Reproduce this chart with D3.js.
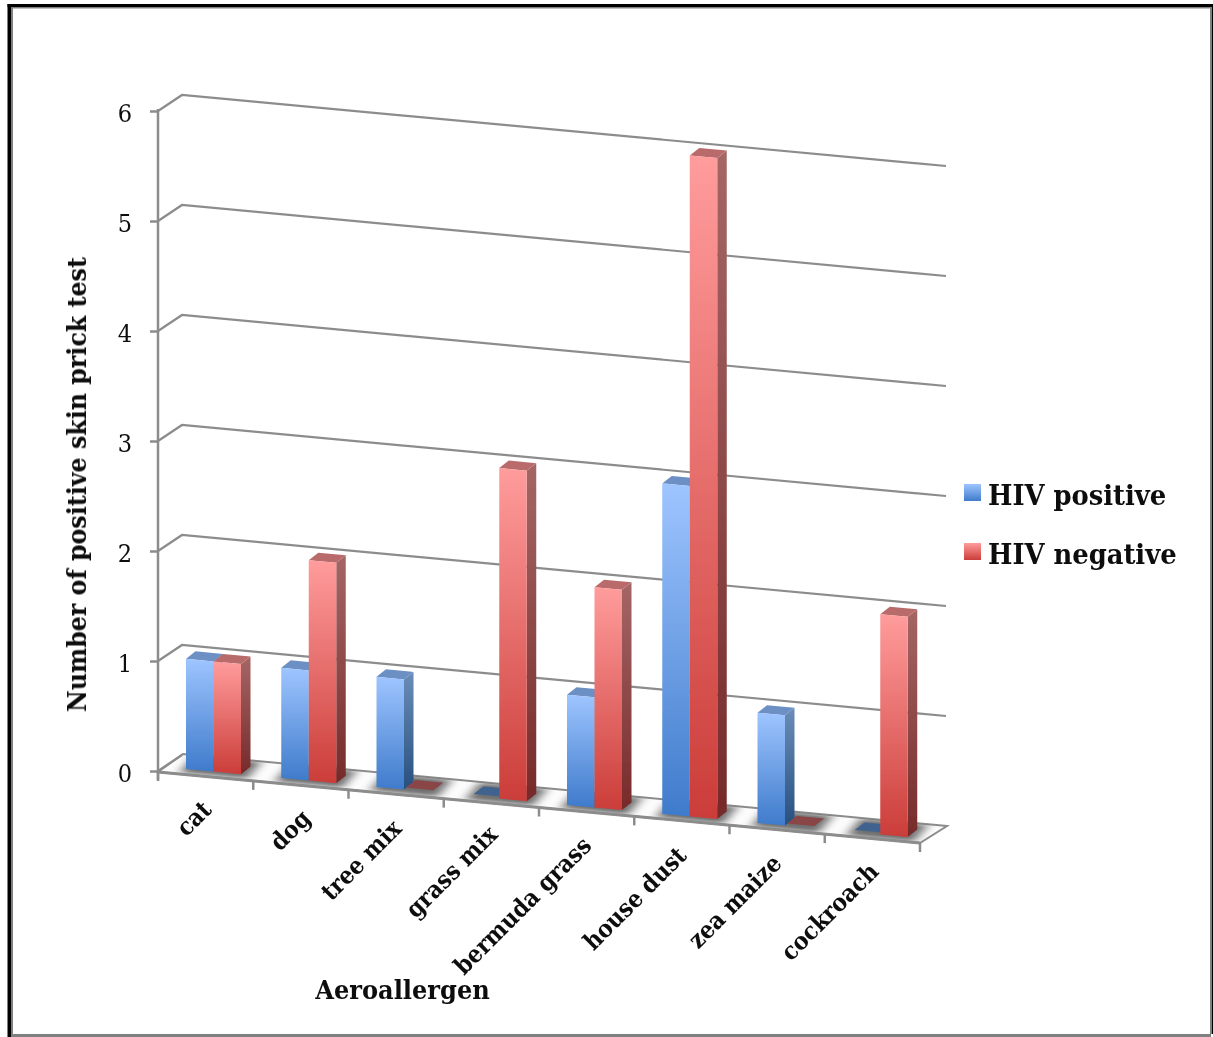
<!DOCTYPE html>
<html>
<head>
<meta charset="utf-8">
<script src="https://cdnjs.cloudflare.com/ajax/libs/d3/7.8.5/d3.min.js"></script>
<style>
  html, body { margin: 0; padding: 0; background: #fff; }
  svg { display: block; }
  text { fill: #0c0c0c; }
  .bold { font-family: "DejaVu Serif Condensed", "DejaVu Serif", serif; font-weight: bold; }
</style>
</head>
<body>
<svg id="svg"></svg>
<script>
const categories = ["cat", "dog", "tree mix", "grass mix", "bermuda grass", "house dust", "zea maize", "cockroach"];
const seriesNames = ["HIV positive", "HIV negative"];
const hivPositive = [1, 1, 1, 0, 1, 3, 1, 0];
const hivNegative = [1, 2, 0, 3, 2, 6, 0, 2];
const yTicks = [0, 1, 2, 3, 4, 5, 6];
const labelEnds = [[213, 811], [312, 820], [403, 830], [499, 836], [593, 847], [688, 857], [783, 865], [880, 873]];

const width = 1213;
const height = 1037;

const root = d3.select("#svg").attr("width", width).attr("height", height);
const defs = root.append("defs");

function addGradient(id, top, bottom) {
    let g = defs.append("linearGradient").attr("id", id)
        .attr("x1", 0).attr("y1", 0).attr("x2", 0).attr("y2", 1);
    g.append("stop").attr("offset", "0%").attr("stop-color", top);
    g.append("stop").attr("offset", "100%").attr("stop-color", bottom);
}
addGradient("front0", "#9ec5ff", "#3f7bcb");
addGradient("side0", "#6a8db8", "#28507f");
addGradient("front1", "#ff9c9c", "#cb3d39");
addGradient("side1", "#a56666", "#772a2a");

defs.append("filter").attr("id", "shadow")
    .attr("x", "-50%").attr("y", "-100%").attr("width", "200%").attr("height", "300%")
    .append("feGaussianBlur").attr("stdDeviation", "6 2");

// the picture is a bit soft everywhere
defs.append("filter").attr("id", "soft")
    .attr("filterUnits", "userSpaceOnUse")
    .attr("x", 0).attr("y", 0).attr("width", width).attr("height", height)
    .append("feGaussianBlur").attr("stdDeviation", 0.45);

const topColor = ["#6c8fc4", "#b96a6a"];
const flatColor = ["#3f628f", "#8a4446"];
const lineGray = "#8c8c8c";

// frame
const frame = root.append("g");
frame.append("rect").attr("x", 11).attr("y", 7).attr("width", 1200).attr("height", 1030).attr("fill", "#808080");
frame.append("rect").attr("x", 13).attr("y", 8.5).attr("width", 1197).attr("height", 1025.5).attr("fill", "#fff");
frame.append("rect").attr("x", 7.5).attr("y", 4).attr("width", 3.5).attr("height", 1033).attr("fill", "#000");
frame.append("rect").attr("x", 7.5).attr("y", 4).attr("width", 1205.5).attr("height", 3).attr("fill", "#000");
frame.append("rect").attr("x", 1211.5).attr("y", 4).attr("width", 1.5).attr("height", 1030).attr("fill", "#000");

const svg = root.append("g").attr("filter", "url(#soft)");

// scales
const xScale = d3.scaleBand().domain(categories).range([158, 920]);
const barScale = d3.scaleBand().domain(seriesNames).range([28, 83]);
const yScale = d3.scaleLinear().domain([0, 6]).range([771, 111]);
const heightScale = d3.scaleLinear().domain([0, 6]).range([0, 661]);
const floorY = d3.scaleLinear().domain([186, 854]).range([769, 832]);

const depthX = 9.5;
const depthY = -7.5;
const wallX = 24;
const wallY = -16;
const gridRun = 764;
const gridDrop = 71;

function pts(list) {
    return list.map(p => p.join(",")).join(" ");
}

// floor
const floorFront = d3.line()([[158, 772], [920, 843]]);
const floorPoly = [[158, 772], [920, 843], [947, 826], [183, 754]];
defs.append("clipPath").attr("id", "floor-clip").append("polygon").attr("points", pts(floorPoly));
svg.append("polygon").attr("points", pts(floorPoly))
    .attr("fill", "#fdfdfd").attr("stroke", lineGray).attr("stroke-width", 2);

// gray shadows under the bars
svg.append("g").attr("clip-path", "url(#floor-clip)")
    .selectAll("polygon")
    .data(categories)
    .join("polygon")
    .attr("filter", "url(#shadow)")
    .attr("fill", "#707070")
    .attr("points", c => {
        let x0 = xScale(c) + 22;
        let x1 = xScale(c) + xScale.bandwidth() - 6;
        return pts([[x0, floorY(x0) + 4], [x1, floorY(x1) + 4], [x1 + 14, floorY(x1) - 13], [x0 + 14, floorY(x0) - 13]]);
    });

svg.append("path").attr("d", floorFront).attr("stroke", lineGray).attr("stroke-width", 3).attr("fill", "none");

// gridlines, each with its bit of side wall
const grid = svg.append("g").attr("fill", "none").attr("stroke", lineGray).attr("stroke-width", 2.2);
yTicks.forEach(t => {
    let y = yScale(t);
    let points = [[158, y], [158 + wallX, y + wallY]];
    if (t > 0) points.push([158 + wallX + gridRun, y + wallY + gridDrop]);
    grid.append("polyline").attr("points", pts(points));
});

// y axis
const yAxis = svg.append("g")
    .attr("transform", "translate(158,0)")
    .call(d3.axisLeft(yScale).tickValues(yTicks).tickFormat(d3.format("d")).tickSize(8).tickPadding(18));
yAxis.selectAll("line, path").attr("stroke", lineGray).attr("stroke-width", 2.5);
yAxis.select(".domain").attr("d", "M0,109V780");
yAxis.selectAll("text")
    .attr("font-family", "'DejaVu Serif Condensed', 'DejaVu Serif', serif")
    .attr("font-size", 25).attr("dy", "0.42em").attr("fill", "#111");

// x ticks on the floor front edge
svg.append("g").selectAll("line")
    .data(categories.concat(["end"]))
    .join("line")
    .attr("x1", (c, i) => 158 + i * xScale.bandwidth())
    .attr("x2", (c, i) => 158 + i * xScale.bandwidth())
    .attr("y1", (c, i) => 772 + i * 71 / 8)
    .attr("y2", (c, i) => 781 + i * 71 / 8)
    .attr("stroke", lineGray).attr("stroke-width", 2.5);

// bars, back to front
const seriesValues = [hivPositive, hivNegative];
const bars = svg.append("g");
categories.forEach((c, i) => {
    seriesNames.forEach((s, k) => {
        let value = seriesValues[k][i];
        let x0 = xScale(c) + barScale(s);
        let x1 = x0 + barScale.bandwidth();
        let y0 = floorY(x0);
        let y1 = floorY(x1);
        let h = heightScale(value);
        let g = bars.append("g");

        if (value === 0) {
            g.append("polygon")
                .attr("points", pts([[x0 + 2, y0 - 2], [x1 + 2, y1 - 2], [x1 + depthX + 2, y1 + depthY - 2], [x0 + depthX + 2, y0 + depthY - 2]]))
                .attr("fill", flatColor[k]);
            return;
        }
        g.append("polygon")
            .attr("points", pts([[x1, y1 - h], [x1 + depthX, y1 - h + depthY], [x1 + depthX, y1 + depthY], [x1, y1]]))
            .attr("fill", `url(#side${k})`);
        g.append("polygon")
            .attr("points", pts([[x0, y0 - h], [x1, y1 - h], [x1 + depthX, y1 - h + depthY], [x0 + depthX, y0 - h + depthY]]))
            .attr("fill", topColor[k]);
        g.append("polygon")
            .attr("points", pts([[x0, y0 - h], [x1, y1 - h], [x1, y1], [x0, y0]]))
            .attr("fill", `url(#front${k})`);
    });
});

// category labels
svg.append("g").selectAll("text")
    .data(categories)
    .join("text")
    .attr("class", "bold")
    .attr("font-size", 24.3)
    .attr("text-anchor", "end")
    .attr("transform", (c, i) => `translate(${labelEnds[i][0]},${labelEnds[i][1]}) rotate(-45)`)
    .text(c => c);

// axis titles
svg.append("text").attr("class", "bold")
    .attr("font-size", 26.4)
    .attr("text-anchor", "middle")
    .attr("transform", "translate(86,484.5) rotate(-90)")
    .text("Number of positive skin prick test");

svg.append("text").attr("class", "bold")
    .attr("font-size", 26.8)
    .attr("x", 402.5).attr("y", 999)
    .attr("text-anchor", "middle")
    .text("Aeroallergen");

// legend
const legendY = d3.scalePoint().domain(seriesNames).range([484, 543]);
const legend = svg.append("g").selectAll("g")
    .data(seriesNames)
    .join("g")
    .attr("transform", s => `translate(964,${legendY(s)})`);
legend.append("rect").attr("width", 17).attr("height", 17)
    .attr("fill", (s, k) => `url(#front${k})`);
legend.append("text").attr("class", "bold")
    .attr("font-size", 28.7).attr("x", 24).attr("y", 21)
    .text(s => s);
</script>
</body>
</html>
